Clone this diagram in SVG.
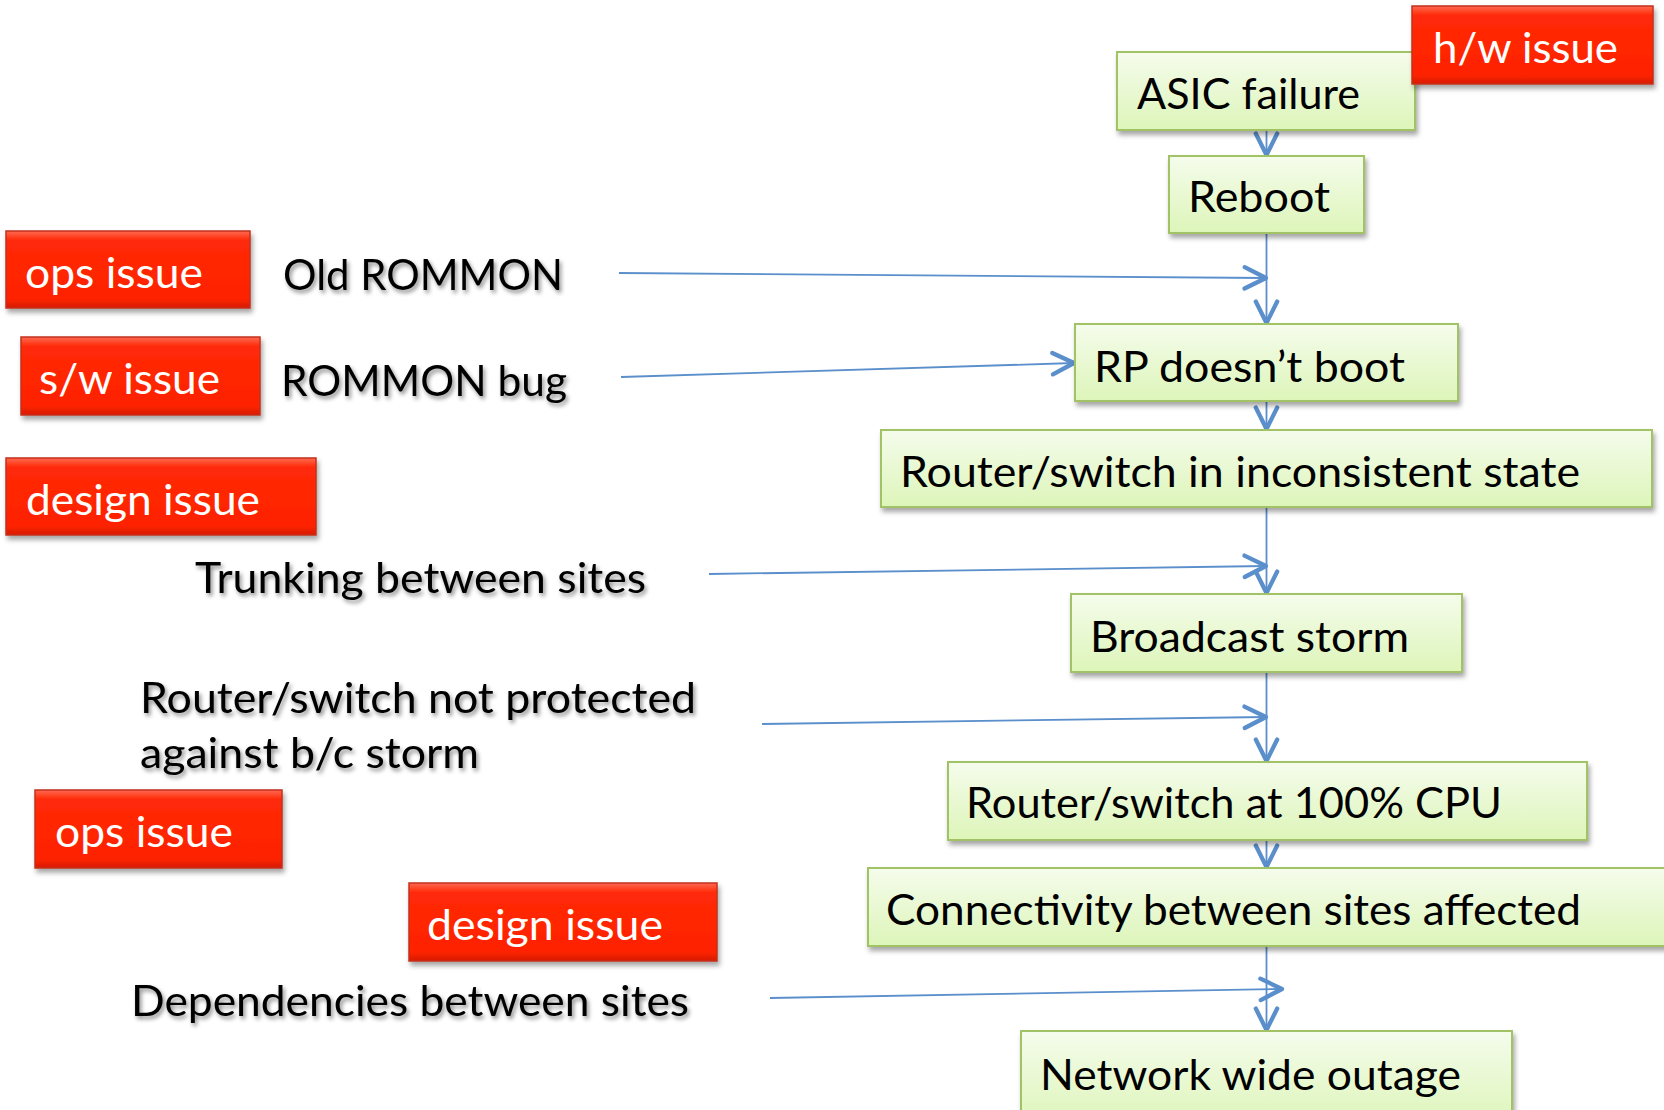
<svg xmlns="http://www.w3.org/2000/svg" width="1664" height="1110" viewBox="0 0 1664 1110">
<defs>
  <linearGradient id="gGreen" x1="0" y1="0" x2="0" y2="1">
    <stop offset="0" stop-color="#f5fcec"/>
    <stop offset="1" stop-color="#ddf5b9"/>
  </linearGradient>
  <linearGradient id="gRed" x1="0" y1="0" x2="0" y2="1">
    <stop offset="0" stop-color="#ff6a52"/>
    <stop offset="0.12" stop-color="#ff2a08"/>
    <stop offset="0.88" stop-color="#ff2200"/>
    <stop offset="1" stop-color="#d61d00"/>
  </linearGradient>
  <filter id="shBox" x="-10%" y="-20%" width="120%" height="150%">
    <feDropShadow dx="2" dy="4" stdDeviation="2.5" flood-color="#000" flood-opacity="0.35"/>
  </filter>
  <filter id="shText" x="-10%" y="-30%" width="120%" height="160%">
    <feDropShadow dx="2" dy="3" stdDeviation="2" flood-color="#000" flood-opacity="0.45"/>
  </filter>
  <marker id="arr" markerUnits="userSpaceOnUse" markerWidth="30" markerHeight="30" viewBox="-24 -14 28 28" refX="0" refY="0" orient="auto">
    <path d="M-20,-10 L0,0 L-20,10" fill="none" stroke="#5a8fcb" stroke-width="4" stroke-linecap="round" stroke-linejoin="round"/>
  </marker>
  <style>
    .green { fill: url(#gGreen); stroke: #a2c365; stroke-width: 2; filter: url(#shBox); }
    .red { fill: url(#gRed); stroke: #c4301e; stroke-width: 1.5; filter: url(#shBox); }
    text { font-family: Lato, "Open Sans", "Liberation Sans", sans-serif; font-size: 42px; }
    .dark { fill: #000; }
    .light { fill: #fff; }
    .free { fill: #000; filter: url(#shText); }
    .conn line { stroke: #5a8fcb; stroke-width: 1.8; marker-end: url(#arr); }
  </style>
</defs>
<rect width="1664" height="1110" fill="#fff"/>

<g id="connectors" class="conn">
  <line x1="1266.5" y1="130" x2="1266.5" y2="155"/>
  <line x1="1266.5" y1="233" x2="1266.5" y2="323"/>
  <line x1="619" y1="273" x2="1266" y2="278"/>
  <line x1="621" y1="377" x2="1074" y2="363"/>
  <line x1="1266.5" y1="401" x2="1266.5" y2="429"/>
  <line x1="1266.5" y1="507" x2="1266.5" y2="593"/>
  <line x1="709" y1="574" x2="1266" y2="566"/>
  <line x1="1266.5" y1="672" x2="1266.5" y2="761"/>
  <line x1="762" y1="724" x2="1266" y2="717"/>
  <line x1="1266.5" y1="840" x2="1266.5" y2="867"/>
  <line x1="1266.5" y1="946" x2="1266.5" y2="1030"/>
  <line x1="770" y1="998" x2="1282" y2="989"/>
</g>

<g id="asic-failure">
  <rect class="green" x="1117" y="52" width="298" height="78"/>
  <text class="dark" x="1137" y="109" textLength="223" lengthAdjust="spacingAndGlyphs">ASIC failure</text>
</g>
<g id="hw-issue">
  <rect class="red" x="1412" y="6" width="241" height="78"/>
  <text class="light" x="1433" y="63" textLength="185" lengthAdjust="spacingAndGlyphs">h/w issue</text>
</g>
<g id="reboot">
  <rect class="green" x="1169" y="156" width="195" height="77"/>
  <text class="dark" x="1188" y="212" textLength="142" lengthAdjust="spacingAndGlyphs">Reboot</text>
</g>
<g id="ops-issue-1">
  <rect class="red" x="6" y="231" width="244" height="77"/>
  <text class="light" x="25" y="288" textLength="178" lengthAdjust="spacingAndGlyphs">ops issue</text>
</g>
<g id="old-rommon">
  <text class="free" x="283" y="290" textLength="280" lengthAdjust="spacingAndGlyphs">Old ROMMON</text>
</g>
<g id="sw-issue">
  <rect class="red" x="21" y="337" width="239" height="78"/>
  <text class="light" x="39" y="394" textLength="181" lengthAdjust="spacingAndGlyphs">s/w issue</text>
</g>
<g id="rommon-bug">
  <text class="free" x="281" y="396" textLength="286" lengthAdjust="spacingAndGlyphs">ROMMON bug</text>
</g>
<g id="rp-doesnt-boot">
  <rect class="green" x="1075" y="324" width="383" height="77"/>
  <text class="dark" x="1094" y="382" textLength="311" lengthAdjust="spacingAndGlyphs">RP doesn’t boot</text>
</g>
<g id="design-issue-1">
  <rect class="red" x="6" y="458" width="310" height="77"/>
  <text class="light" x="26" y="515" textLength="234" lengthAdjust="spacingAndGlyphs">design issue</text>
</g>
<g id="inconsistent-state">
  <rect class="green" x="881" y="430" width="771" height="77"/>
  <text class="dark" x="900" y="487" textLength="680" lengthAdjust="spacingAndGlyphs">Router/switch in inconsistent state</text>
</g>
<g id="trunking">
  <text class="free" x="195" y="593" textLength="451" lengthAdjust="spacingAndGlyphs">Trunking between sites</text>
</g>
<g id="broadcast-storm">
  <rect class="green" x="1071" y="594" width="391" height="78"/>
  <text class="dark" x="1090" y="652" textLength="319" lengthAdjust="spacingAndGlyphs">Broadcast storm</text>
</g>
<g id="not-protected">
  <text class="free" x="140" y="713" textLength="556" lengthAdjust="spacingAndGlyphs">Router/switch not protected</text>
  <text class="free" x="140" y="768" textLength="339" lengthAdjust="spacingAndGlyphs">against b/c storm</text>
</g>
<g id="cpu-100">
  <rect class="green" x="948" y="762" width="639" height="78"/>
  <text class="dark" x="966" y="818" textLength="536" lengthAdjust="spacingAndGlyphs">Router/switch at 100% CPU</text>
</g>
<g id="ops-issue-2">
  <rect class="red" x="35" y="790" width="247" height="78"/>
  <text class="light" x="55" y="847" textLength="178" lengthAdjust="spacingAndGlyphs">ops issue</text>
</g>
<g id="connectivity">
  <rect class="green" x="868" y="868" width="810" height="78"/>
  <text class="dark" x="886" y="925" textLength="695" lengthAdjust="spacingAndGlyphs">Connectivity between sites affected</text>
</g>
<g id="design-issue-2">
  <rect class="red" x="409" y="883" width="308" height="78"/>
  <text class="light" x="427" y="940" textLength="236" lengthAdjust="spacingAndGlyphs">design issue</text>
</g>
<g id="dependencies">
  <text class="free" x="131" y="1016" textLength="558" lengthAdjust="spacingAndGlyphs">Dependencies between sites</text>
</g>
<g id="network-outage">
  <rect class="green" x="1021" y="1031" width="491" height="95"/>
  <text class="dark" x="1040" y="1090" textLength="421" lengthAdjust="spacingAndGlyphs">Network wide outage</text>
</g>
</svg>
